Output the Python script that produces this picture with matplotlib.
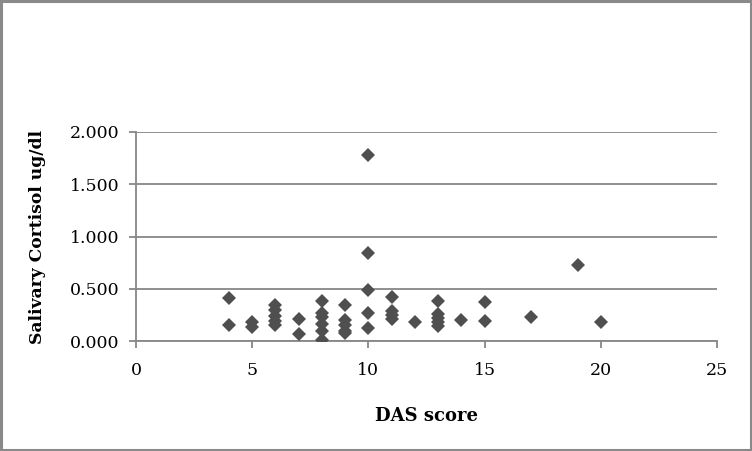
import matplotlib
matplotlib.use("Agg")
import matplotlib.pyplot as plt
from matplotlib.patches import Rectangle

das_score = [4, 4, 5, 5, 6, 6, 6, 6, 6, 7, 7,
             8, 8, 8, 8, 8, 8, 9, 9, 9, 9, 9,
             10, 10, 10, 10, 10, 11, 11, 11, 11, 12,
             13, 13, 13, 13, 13, 14, 15, 15, 17, 19, 20]
cortisol = [0.41, 0.15, 0.18, 0.13, 0.34, 0.30, 0.24, 0.19, 0.15, 0.21, 0.07,
            0.38, 0.27, 0.23, 0.16, 0.10, 0.01, 0.34, 0.20, 0.15, 0.10, 0.08,
            1.78, 0.84, 0.49, 0.27, 0.12, 0.42, 0.29, 0.25, 0.21, 0.18,
            0.38, 0.26, 0.22, 0.18, 0.14, 0.20, 0.37, 0.19, 0.23, 0.73, 0.18]

x_ticks = [0, 5, 10, 15, 20, 25]
y_ticks = [0.0, 0.5, 1.0, 1.5, 2.0]
y_tick_labels = ["0.000", "0.500", "1.000", "1.500", "2.000"]

font = "DejaVu Serif"
gray = "#878787"

fig = plt.figure(figsize=(7.52, 4.51), dpi=100)
ax = fig.add_axes([136/752, 1 - 341/451, (717-136)/752, (341-132)/451])

ax.plot(das_score, cortisol, linestyle="none", marker="D", ms=7.4,
        color="#4f4f4f", markeredgewidth=0, zorder=3)

ax.set_xlim(0, 25)
ax.set_ylim(0, 2.0)
ax.set_xticks(x_ticks)
ax.set_yticks(y_ticks)
ax.set_yticklabels(y_tick_labels)
ax.grid(axis="y", color=gray, linewidth=1.3)
ax.set_axisbelow(True)
for s in ["top", "right"]:
    ax.spines[s].set_visible(False)
for s in ["left", "bottom"]:
    ax.spines[s].set_color(gray)
    ax.spines[s].set_linewidth(1.3)
ax.tick_params(axis="both", colors=gray, length=5, width=1.3, direction="out",
               labelcolor="black", labelsize=12.5)
for lab in ax.get_xticklabels() + ax.get_yticklabels():
    lab.set_fontfamily(font)
ax.tick_params(axis="x", pad=10)
ax.tick_params(axis="y", pad=7)

ax.set_xlabel("DAS score", fontfamily=font, fontweight="bold", fontsize=13, labelpad=20)
ax.set_ylabel("Salivary Cortisol ug/dl", fontfamily=font, fontweight="bold", fontsize=12.3, labelpad=17)

fig.patches.append(Rectangle((0.0015, 0.0025), 0.997, 0.995, transform=fig.transFigure,
                             fill=False, edgecolor="#8a8a8a", linewidth=2.2))

fig.savefig("out.png", dpi=100)
